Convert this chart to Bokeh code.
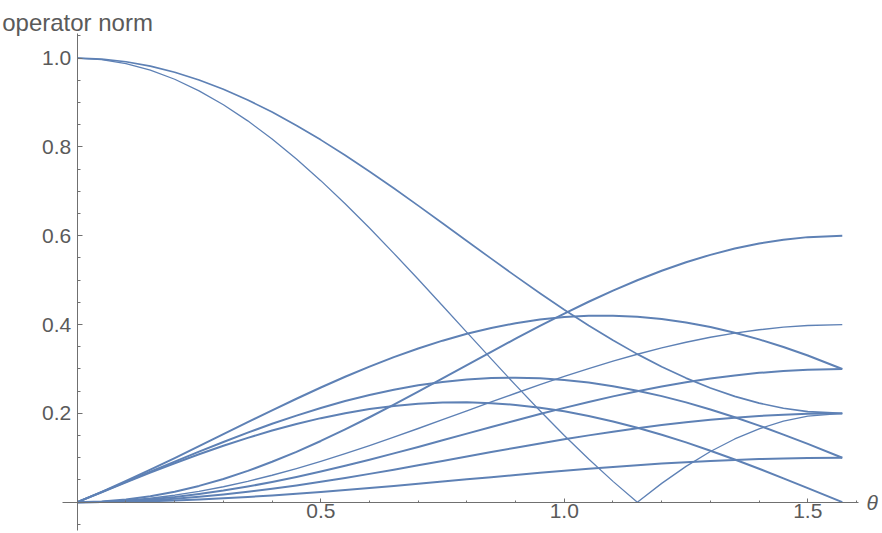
from bokeh.plotting import figure
from bokeh.models import Range1d, FixedTicker, Label
from bokeh.embed import file_html
from bokeh.resources import INLINE

# ---- data ----
theta = [0.00, 0.05, 0.10, 0.15, 0.20, 0.25, 0.30, 0.35, 0.40, 0.45, 0.50,
         0.55, 0.60, 0.65, 0.70, 0.75, 0.80, 0.85, 0.90, 0.95, 1.00,
         1.05, 1.10, 1.15, 1.20, 1.25, 1.30, 1.35, 1.40, 1.45, 1.50, 1.5708]

norm_s = [1.0, .998, .992, .9821, .9684, .951, .9301, .9059, .8787, .8486, .8161,
          .7814, .7449, .707, .668, .6283, .5883, .5485, .5091, .4707, .4335,
          .3981, .3646, .3335, .305, .2795, .2572, .2384, .2231, .2116, .204, .2]
norm_v = [1.0, .997, .988, .9732, .9526, .9265, .8952, .8589, .818, .773, .7242,
          .6722, .6174, .5605, .502, .4424, .3825, .3227, .2637, .206, .1503,
          .0971, .0469, 0.0, .0424, .0807, .1141, .1424, .1653, .1826, .194, .2]
norm_p42 = [0.0, .0232, .0477, .0732, .0994, .1263, .1532, .1802, .2069, .233, .2583,
            .2825, .3053, .3267, .3462, .3638, .3793, .3924, .4032, .4114, .417,
            .4199, .4202, .4177, .4126, .4049, .3945, .3818, .3667, .3494, .3303, .3]
norm_p28 = [0.0, .0227, .0457, .0687, .0915, .114, .1357, .1567, .1766, .1951, .2123,
            .2278, .2416, .2534, .2632, .2709, .2764, .2795, .2805, .2791, .2754,
            .2694, .2613, .2511, .2389, .2248, .2088, .1914, .1725, .1523, .1313, .1]
norm_p22 = [0.0, .0225, .0447, .0665, .0876, .1079, .127, .1449, .1614, .1762, .1893,
            .2005, .2097, .2168, .2217, .2244, .2249, .2231, .2191, .2129, .2046,
            .1942, .1819, .1678, .152, .1347, .116, .0962, .0754, .0538, .0318, 0.0]
norm_c06 = [0.0, .0015, .006, .0134, .0237, .0367, .0524, .0705, .091, .1135, .1379,
            .1639, .1913, .2198, .249, .2788, .3088, .3387, .3682, .397, .4248,
            .4515, .4766, .4999, .5212, .5403, .5571, .5712, .5827, .5913, .597, .6]
norm_c04 = [0.0, .001, .004, .0089, .0158, .0245, .0349, .047, .0607, .0757, .0919,
            .1093, .1275, .1465, .166, .1859, .2058, .2258, .2454, .2647, .2832,
            .301, .3177, .3333, .3475, .3602, .3714, .3808, .3884, .3942, .398, .4]
norm_c03 = [0.0, .0007, .003, .0067, .0118, .0184, .0262, .0353, .0455, .0568, .069,
            .082, .0956, .1099, .1245, .1394, .1544, .1693, .1841, .1985, .2124,
            .2257, .2383, .2499, .2606, .2702, .2785, .2856, .2913, .2956, .2985, .3]
norm_c02 = [0.0, .0005, .002, .0045, .0079, .0122, .0175, .0235, .0303, .0378, .046,
            .0546, .0638, .0733, .083, .0929, .1029, .1129, .1227, .1323, .1416,
            .1505, .1589, .1666, .1737, .1801, .1857, .1904, .1942, .1971, .199, .2]
norm_c01 = [0.0, .0002, .001, .0022, .0039, .0061, .0087, .0118, .0152, .0189, .023,
            .0273, .0319, .0366, .0415, .0465, .0515, .0564, .0614, .0662, .0708,
            .0752, .0794, .0833, .0869, .0901, .0928, .0952, .0971, .0985, .0995, .1]

x_major = [0.5, 1.0, 1.5]
x_major_labels = ["0.5", "1.0", "1.5"]
x_minor = [0.1, 0.2, 0.3, 0.4, 0.6, 0.7, 0.8, 0.9, 1.1, 1.2, 1.3, 1.4, 1.6]
y_major = [0.2, 0.4, 0.6, 0.8, 1.0]
y_major_labels = ["0.2", "0.4", "0.6", "0.8", "1.0"]
y_minor = [-0.05, 0.05, 0.1, 0.15, 0.25, 0.3, 0.35, 0.45, 0.5, 0.55,
           0.65, 0.7, 0.75, 0.85, 0.9, 0.95, 1.05]

y_label = "operator norm"
x_label = "θ"

# ---- styling / layout ----
LINE = "#5E81B5"
AXIS = "#707070"
TEXT = "#5a5a5a"
FONT = "Liberation Sans"

p = figure(width=882, height=533, output_backend="svg", toolbar_location=None,
           x_range=Range1d(-0.15770, 1.65339), y_range=Range1d(-0.07050, 1.12995),
           min_border_left=0, min_border_right=0, min_border_top=0, min_border_bottom=0)
p.outline_line_color = None
p.xgrid.visible = False
p.ygrid.visible = False
p.background_fill_color = "white"
p.border_fill_color = "white"

series = [
    (norm_p22, 2.0), (norm_p28, 2.0), (norm_p42, 2.0),
    (norm_c01, 2.0), (norm_c02, 2.0), (norm_c03, 2.0), (norm_c04, 1.4), (norm_c06, 2.0),
    (norm_s, 1.7), (norm_v, 1.3),
]
for ys, lw in series:
    p.line(theta, ys, line_color=LINE, line_width=lw, line_join="round")

p.xaxis.fixed_location = 0
p.yaxis.fixed_location = 0
p.xaxis.bounds = (-0.0304, 1.604)
p.yaxis.bounds = (-0.0637, 1.0556)
p.xaxis.ticker = FixedTicker(ticks=x_major, minor_ticks=x_minor)
p.yaxis.ticker = FixedTicker(ticks=y_major, minor_ticks=y_minor)
p.xaxis.major_label_overrides = {t: l for t, l in zip(x_major, x_major_labels)}
p.yaxis.major_label_overrides = {t: l for t, l in zip(y_major, y_major_labels)}

for ax in (p.xaxis[0], p.yaxis[0]):
    ax.axis_line_color = AXIS
    ax.axis_line_width = 1
    ax.major_tick_line_color = AXIS
    ax.minor_tick_line_color = AXIS
    ax.major_tick_out = 0
    ax.minor_tick_out = 0
    ax.major_label_text_font = FONT
    ax.major_label_text_font_size = "21px"
    ax.major_label_text_color = TEXT

p.yaxis.major_tick_in = 5
p.yaxis.minor_tick_in = 3
p.yaxis.major_label_standoff = 6
p.xaxis.major_tick_in = 4
p.xaxis.minor_tick_in = 2
p.xaxis.major_label_standoff = 2

p.add_layout(Label(x=-0.1542, y=1.0804, text=y_label, text_font=FONT,
                   text_font_size="24px", text_color=TEXT, text_baseline="alphabetic",
                   text_align="left"))
p.add_layout(Label(x=1.6205, y=0.0, text=x_label, text_font=FONT,
                   text_font_size="21px", text_font_style="italic", text_color=TEXT,
                   text_baseline="middle", text_align="left"))

open("out.html", "w").write(file_html(p, INLINE))
